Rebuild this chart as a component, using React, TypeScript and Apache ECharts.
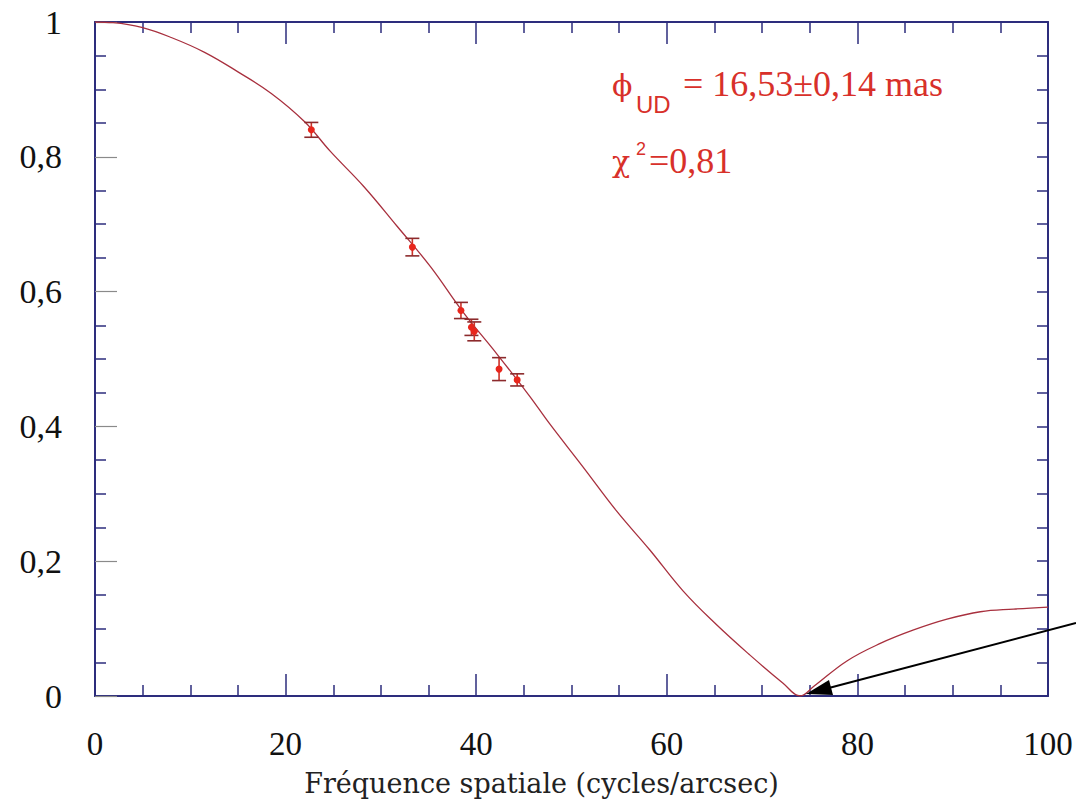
import React, { useEffect, useRef } from "react";
import * as echarts from "echarts";

// Fitted uniform-disk visibility curve
const curveX = [0, 1.9, 4.9, 8.0, 11.5, 15.0, 18.5, 22.0, 24.7, 28.2, 31.7, 35.2, 38.6, 42.2, 45.6, 47.7, 51.2, 54.7, 58.2, 61.7, 65.2, 68.7, 72.2, 74.0, 75.4, 78.9, 82.4, 85.9, 89.4, 92.9, 96.4, 100];
const curveV = [1.0, 0.999, 0.992, 0.977, 0.955, 0.926, 0.894, 0.852, 0.808, 0.756, 0.697, 0.637, 0.570, 0.507, 0.445, 0.404, 0.340, 0.275, 0.217, 0.156, 0.106, 0.061, 0.019, 0.0, 0.014, 0.052, 0.078, 0.098, 0.114, 0.125, 0.129, 0.132];

// Measured visibilities with error bars
const ptsX = [22.7, 33.3, 38.4, 39.5, 39.8, 42.4, 44.3];
const ptsV = [0.840, 0.666, 0.572, 0.547, 0.541, 0.485, 0.469];
const ptsErr = [0.011, 0.013, 0.012, 0.012, 0.014, 0.017, 0.009];

// Axis ticks
const xTicks = [0, 20, 40, 60, 80, 100];
const yTicks = [0, 0.2, 0.4, 0.6, 0.8, 1];

const NAVY = "#2d2d7d";
const SERIF = "Liberation Serif";
const SLAB = "DejaVu Serif";
const SANS = "Liberation Sans";
const RED = "#d8302a";

export default function App() {
  const ref = useRef<HTMLDivElement>(null);
  useEffect(() => {
    if (!ref.current) return;
    const chart = echarts.init(ref.current, undefined, { renderer: "svg" });

    const baseX = {
      type: "value" as const,
      min: xTicks[0],
      max: xTicks[xTicks.length - 1],
      interval: 20,
      splitLine: { show: false },
      axisLine: { show: true, onZero: false, lineStyle: { color: NAVY, width: 2 } },
      axisTick: { show: true, inside: true, length: 22, lineStyle: { color: NAVY, width: 1.5 } },
      minorTick: { show: true, splitNumber: 4, length: 11, lineStyle: { color: NAVY, width: 1.5 } },
    };
    const baseY = {
      type: "value" as const,
      min: yTicks[0],
      max: yTicks[yTicks.length - 1],
      interval: 0.2,
      splitLine: { show: false },
      axisLine: { show: true, onZero: false, lineStyle: { color: NAVY, width: 2 } },
      minorTick: { show: true, splitNumber: 4, length: 11, lineStyle: { color: NAVY, width: 1.5 } },
    };

    const option = {
      animation: false,
      backgroundColor: "#ffffff",
      grid: { left: 95, right: 28, top: 22, bottom: 115, containLabel: false },
      xAxis: [
        {
          ...baseX,
          position: "bottom",
          name: "Fréquence spatiale (cycles/arcsec)",
          nameLocation: "middle",
          nameGap: 74,
          nameTextStyle: {
            fontFamily: SLAB,
            fontSize: 27,
            color: "#222",
            verticalAlign: "top",
            padding: [0, 60, 0, 0],
          },
          axisLabel: {
            show: true,
            margin: 31,
            fontFamily: SERIF,
            fontSize: 33,
            color: "#111",
            formatter: (v: number) => String(v),
          },
        },
        {
          ...baseX,
          position: "top",
          axisLabel: { show: false },
        },
      ],
      yAxis: [
        {
          ...baseY,
          position: "left",
          axisTick: { show: true, inside: true, length: 22, lineStyle: { color: "#8a8a8a", width: 1.2 } },
          axisLabel: {
            show: true,
            margin: 33,
            fontFamily: SERIF,
            fontSize: 34,
            color: "#111",
            formatter: (v: number) => String(Number(v.toFixed(1))).replace(".", ","),
          },
        },
        {
          ...baseY,
          position: "right",
          axisTick: { show: true, inside: true, length: 11, lineStyle: { color: NAVY, width: 1.5 } },
          axisLabel: { show: false },
        },
      ],
      series: [
        {
          type: "line",
          xAxisIndex: 0,
          yAxisIndex: 0,
          data: curveX.map((x, i) => [x, curveV[i]]),
          showSymbol: false,
          symbol: "none",
          smooth: 0.4,
          lineStyle: { color: "#a8303e", width: 1.3 },
          z: 2,
        },
        {
          type: "custom",
          xAxisIndex: 0,
          yAxisIndex: 0,
          data: ptsX.map((x, i) => [x, ptsV[i], ptsErr[i]]),
          encode: { x: 0, y: 1 },
          z: 3,
          renderItem: (params: any, api: any) => {
            const x = api.value(0);
            const v = api.value(1);
            const e = api.value(2);
            const top = api.coord([x, v + e]);
            const bot = api.coord([x, v - e]);
            const c = api.coord([x, v]);
            const hw = 7;
            return {
              type: "group",
              children: [
                { type: "line", shape: { x1: top[0], y1: top[1], x2: bot[0], y2: bot[1] }, style: { stroke: "#cc3228", lineWidth: 1.6 } },
                { type: "line", shape: { x1: top[0] - hw, y1: top[1], x2: top[0] + hw, y2: top[1] }, style: { stroke: "#8c2a2c", lineWidth: 1.6 } },
                { type: "line", shape: { x1: bot[0] - hw, y1: bot[1], x2: bot[0] + hw, y2: bot[1] }, style: { stroke: "#8c2a2c", lineWidth: 1.6 } },
                { type: "circle", shape: { cx: c[0], cy: c[1], r: 3.5 }, style: { fill: "#e8261c" } },
              ],
            };
          },
        },
      ],
      graphic: [
        // Annotation line 1: phi_UD = 16,53±0,14 mas
        { type: "text", left: 612, top: 70, z: 10, style: { text: "ϕ", fontFamily: SLAB, fontSize: 30, fill: RED } },
        { type: "text", left: 636, top: 92, z: 10, style: { text: "UD", fontFamily: SANS, fontSize: 24, fill: RED } },
        { type: "text", left: 683, top: 66, z: 10, style: { text: "= 16,53±0,14 mas", fontFamily: SERIF, fontSize: 36, fill: RED } },
        // Annotation line 2: chi^2=0,81
        { type: "text", left: 612, top: 146, z: 10, style: { text: "χ", fontFamily: SLAB, fontSize: 30, fill: RED } },
        { type: "text", left: 636, top: 140, z: 10, style: { text: "2", fontFamily: SANS, fontSize: 18, fill: RED } },
        { type: "text", left: 649, top: 143, z: 10, style: { text: "=0,81", fontFamily: SERIF, fontSize: 36, fill: RED } },
        // Arrow pointing to the first null
        { type: "line", z: 10, shape: { x1: 1076, y1: 623, x2: 825, y2: 689 }, style: { stroke: "#000", lineWidth: 2 } },
        { type: "polygon", z: 10, shape: { points: [[806, 694], [833, 695], [829, 680]] }, style: { fill: "#000" } },
      ],
    };

    chart.setOption(option as any);
    return () => chart.dispose();
  }, []);

  return <div ref={ref} style={{ position: "absolute", left: 0, top: 0, width: 1076, height: 811 }} />;
}
